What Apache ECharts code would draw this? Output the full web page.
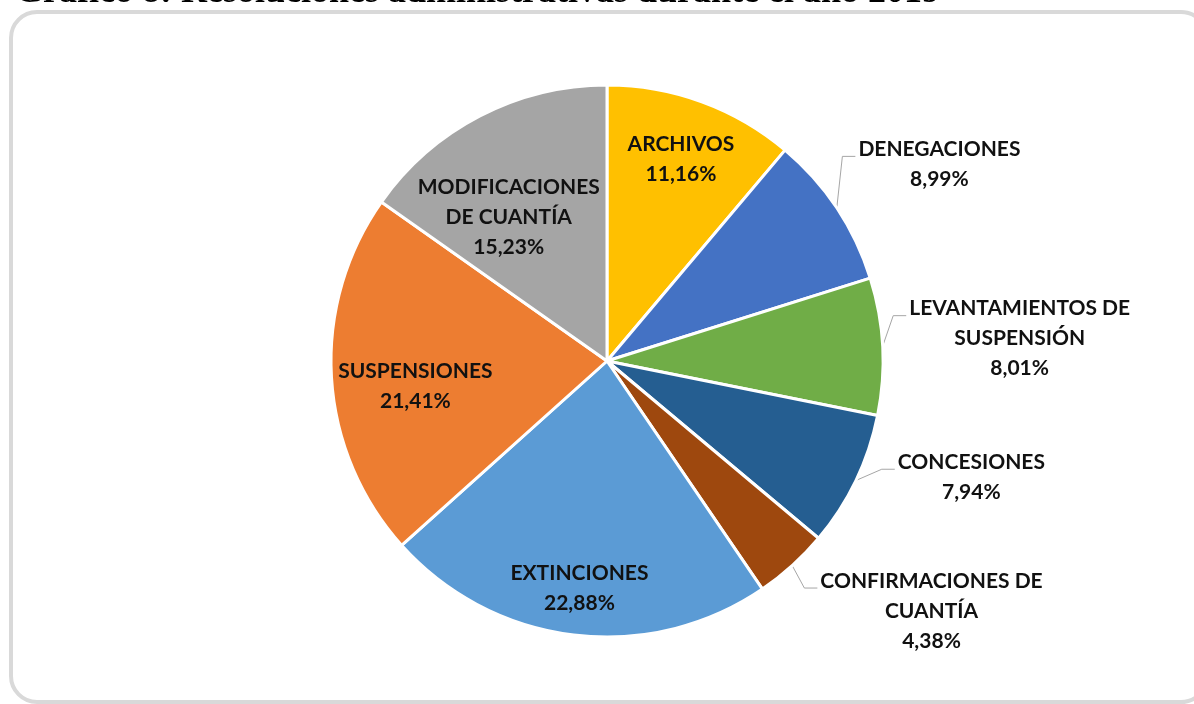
<!DOCTYPE html>
<html>
<head>
<meta charset="utf-8">
<script src="https://cdn.jsdelivr.net/npm/echarts@6/dist/echarts.min.js"></script>
<style>
    html, body { margin: 0; padding: 0; background: #fff; }
    #chart { width: 1194px; height: 704px; }
</style>
</head>
<body>
<div id="chart"></div>
<script>
    // slices, clockwise from 12 o'clock
    const categories = [
        'ARCHIVOS',
        'DENEGACIONES',
        'LEVANTAMIENTOS DE\nSUSPENSIÓN',
        'CONCESIONES',
        'CONFIRMACIONES DE\nCUANTÍA',
        'EXTINCIONES',
        'SUSPENSIONES',
        'MODIFICACIONES\nDE CUANTÍA'
    ];
    const percents = [11.16, 8.99, 8.01, 7.94, 4.38, 22.88, 21.41, 15.23];
    const colors = ['#FFC000', '#4472C4', '#70AD47', '#255E91', '#9E480E', '#5B9BD5', '#ED7D31', '#A5A5A5'];

    // label placement: inside -> radius factor along mid angle
    // outside -> leader line bend (angle in deg, radius factor)
    const labelPlace = [
        {inside: true, f: 0.78},
        {inside: false, bendAngle: 49, bendR: 1.13},
        {inside: false, bendAngle: 81, bendR: 1.05},
        {inside: false, bendAngle: 111.5, bendR: 1.07},
        {inside: false, bendAngle: 139, bendR: 1.09},
        {inside: true, f: 0.83},
        {inside: true, f: 0.70, angleShift: -4},
        {inside: true, f: 0.63, angleShift: -7}
    ];

    const cx = 607, cy = 361, R = 276;
    const total = percents.reduce((a, b) => a + b, 0);
    const midAngles = [];
    let acc = 0;
    percents.forEach(v => {
        midAngles.push((acc + v / 2) / total * 2 * Math.PI);
        acc += v;
    });

    function polar(angle, r) {
        return [cx + r * Math.sin(angle), cy - r * Math.cos(angle)];
    }

    const chart = echarts.init(document.getElementById('chart'));
    const option = {
        backgroundColor: '#fff',
        graphic: [{
            type: 'rect',
            shape: {x: 11, y: 12, width: 1196, height: 690, r: 26},
            style: {fill: 'none', stroke: '#d9d9d9', lineWidth: 4},
            silent: true,
            z: -1
        }, {
            type: 'text',
            x: 15,
            y: 11,
            style: {
                text: 'Gráfico 8: Resoluciones administrativas durante el año 2019',
                fontFamily: 'Liberation Serif',
                fontWeight: 'bold',
                fontSize: 36,
                fill: '#000',
                verticalAlign: 'bottom'
            },
            silent: true
        }],
        series: [{
            type: 'pie',
            center: [cx, cy],
            radius: R,
            startAngle: 90,
            clockwise: true,
            avoidLabelOverlap: false,
            itemStyle: {borderColor: '#fff', borderWidth: 3},
            label: {
                fontFamily: 'Lato',
                fontWeight: 'bold',
                fontSize: 21,
                lineHeight: 30,
                color: '#111',
                formatter: p => p.name + '\n' + percents[p.dataIndex].toFixed(2).replace('.', ',') + '%'
            },
            labelLine: {
                lineStyle: {color: '#a6a6a6', width: 1}
            },
            labelLayout: function (params) {
                const i = params.dataIndex;
                const pl = labelPlace[i];
                const a = midAngles[i];
                if (pl.inside) {
                    const p = polar(a + (pl.angleShift || 0) * Math.PI / 180, R * pl.f);
                    return {x: p[0], y: p[1], align: 'center', verticalAlign: 'middle'};
                }
                const start = polar(a, R);
                const bend = polar(pl.bendAngle * Math.PI / 180, R * pl.bendR);
                const end = [bend[0] + 13, bend[1]];
                return {
                    x: end[0] + 3 + params.labelRect.width / 2,
                    y: bend[1] - 22,
                    align: 'center',
                    verticalAlign: 'top',
                    labelLinePoints: [start, bend, end]
                };
            },
            data: categories.map((name, i) => ({
                name: name,
                value: percents[i],
                itemStyle: {color: colors[i]},
                label: {position: labelPlace[i].inside ? 'inside' : 'outside'},
                labelLine: {show: !labelPlace[i].inside}
            })),
            emphasis: {disabled: true},
            animation: false
        }]
    };
    chart.setOption(option);
</script>
</body>
</html>
